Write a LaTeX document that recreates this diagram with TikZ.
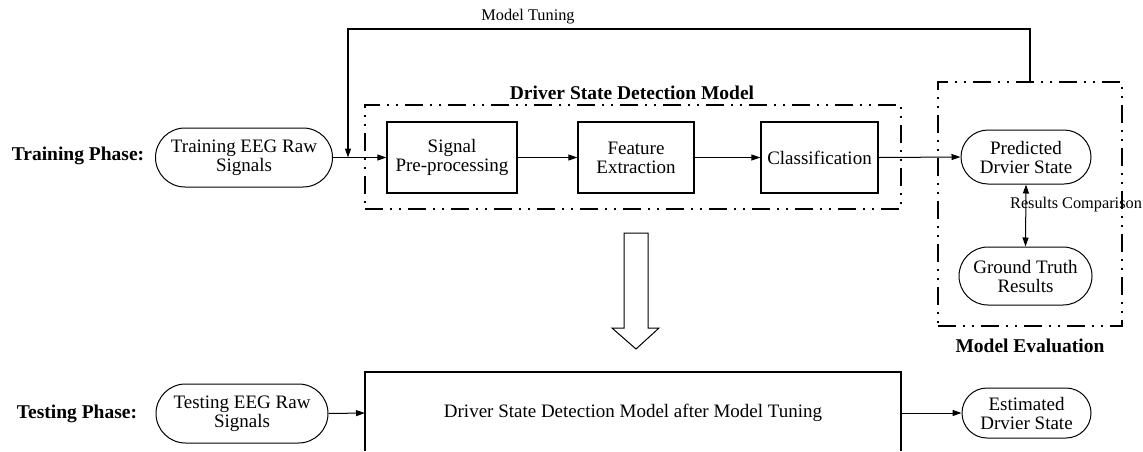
\documentclass[tikz,border=0pt]{standalone}
\usepackage{fontspec}
\setmainfont{Liberation Serif}
\usetikzlibrary{arrows.meta,shapes.misc,positioning}
\begin{document}
\begin{tikzpicture}[x=1pt,y=-1pt,
  every node/.style={font=\fontsize{19}{19}\selectfont, align=center, inner sep=0pt},
  stadium/.style={draw, line width=1pt, rounded rectangle, rounded rectangle arc length=180},
  procbox/.style={draw, line width=1.3pt, minimum height=71pt},
  phaselabel/.style={font=\fontsize{19.5}{21}\selectfont\bfseries},
  boldtitle/.style={font=\fontsize{19.5}{21}\selectfont\bfseries},
  smalltext/.style={font=\fontsize{16.3}{18}\selectfont},
  dashdotbox/.style={draw, line width=1.6pt, dash pattern=on 18pt off 7pt on 2pt off 7pt on 2pt off 7pt},
  conn/.style={line width=1pt, -{Triangle[length=9pt,width=6pt]}},
  dconn/.style={line width=1pt, {Triangle[length=9pt,width=6pt]}-{Triangle[length=9pt,width=6pt]}},
  plain/.style={line width=1.2pt}]
\useasboundingbox (0,0) rectangle (1143,451);
% dash-dot group boxes
\node[dashdotbox, minimum width=536pt, minimum height=104pt] (dsdm) at (633,157) {};
\node[dashdotbox, minimum width=184pt, minimum height=244pt] (meval) at (1030,204) {};
\node[boldtitle, anchor=base] (dsdmtitle) at (632,99) {Driver State Detection Model};
\node[boldtitle] (mevaltitle) at (1030,346) {Model Evaluation};
% training row
\node[phaselabel] (trainlbl) at (78,156) {Training Phase:};
\node[stadium, minimum width=177pt, minimum height=59pt] (train) at (244,157.5) {Training EEG Raw\\Signals};
\node[procbox, minimum width=130pt] (sig) at (452,157.5) {Signal\\Pre-processing};
\node[procbox, minimum width=116pt] (feat) at (636,157.5) {Feature\\Extraction};
\node[procbox, minimum width=117pt] (cls) at (819.5,157.5) {Classification};
\node[stadium, minimum width=130pt, minimum height=54pt] (pred) at (1026,157) {Predicted\\Drvier State};
\node[stadium, minimum width=133pt, minimum height=58pt] (gt) at (1025.5,276) {Ground Truth\\Results};
\node[smalltext] (rescomp) at (1076,205) {Results Comparison};
\node[smalltext] (tunelbl) at (528,17) {Model Tuning};
% connectors training
\coordinate (fbjoin) at (348,157.5);
\coordinate (fbtop) at (1030,82);
\draw[conn] (train.east) -- (sig.west);
\draw[conn] (sig) -- (feat);
\draw[conn] (feat) -- (cls);
\draw[conn] (cls.east) -- (pred.west);
\draw[dconn] (pred.south) -- (gt.north);
\draw[plain, -{Triangle[length=9pt,width=6pt]}] (fbtop) -- (1030,29) -- (348,29) -- (fbjoin);
% hollow arrow
\draw[line width=1pt] (624,233) -- (648,233) -- (648,328) -- (659,328) -- (636,349) -- (612,328) -- (624,328) -- cycle;
% testing row
\node[phaselabel] (testlbl) at (77,414) {Testing Phase:};
\node[stadium, minimum width=172pt, minimum height=59pt] (test) at (242,413.5) {Testing EEG Raw\\Signals};
\coordinate (bbl) at (365,451);
\coordinate (bbr) at (901,451);
\draw[line width=1.2pt] (bbl) -- (365,372) -- (901,372) -- (bbr);
\node[font=\fontsize{19}{20}\selectfont] (bigtext) at (633,413) {Driver State Detection Model after Model Tuning};
\node[stadium, minimum width=129pt, minimum height=50pt] (est) at (1026.5,413) {Estimated\\Drvier State};
\coordinate (bbin) at (365,413);
\coordinate (bbout) at (901,413);
\draw[conn] (test.east) -- (bbin);
\draw[conn] (bbout) -- (est.west);
\end{tikzpicture}
\end{document}
